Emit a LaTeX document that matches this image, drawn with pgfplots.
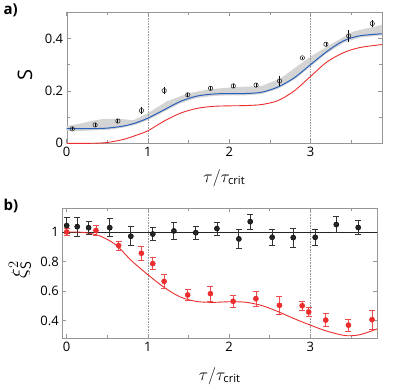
\documentclass[border=0pt]{standalone}
\usepackage{pgfplots}
\pgfplotsset{compat=1.18}
\usepackage{fontspec}
\setmainfont{Open Sans}
\definecolor{bl}{RGB}{40,95,185}
\definecolor{rd}{RGB}{235,45,45}
\definecolor{band}{RGB}{212,212,212}
\definecolor{frame}{RGB}{150,150,150}
\begin{document}
\begin{tikzpicture}
\path[use as bounding box] (0pt,0pt) rectangle (415pt,387pt);
\pgfplotsset{myax/.style={
  scale only axis, anchor=south west,
  axis line style={frame}, tick style={frame, line width=0.5pt},
  tick align=inside, major tick length=4pt,
  ticklabel style={font=\fontsize{13}{15}\selectfont},
  /pgf/number format/assume math mode=true,
  xlabel={\fontsize{16}{18}\selectfont$\tau/\tau_{\mathrm{crit}}$},
  clip=true,
}}
\begin{axis}[myax, at={(66.7pt,243.7pt)}, width=315.3pt, height=131pt,
  xmin=0, xmax=3.88, ymin=0, ymax=0.5,
  xtick={0,1,2,3}, minor xtick={0.5,1.5,2.5,3.5},
  ytick={0,0.2,0.4}, minor ytick={0.1,0.3},
  yticklabels={0,0.2,0.4},
  ylabel={\fontsize{20}{22}\selectfont S},
  ylabel style={at={(axis description cs:-0.132,0.52)}, anchor=center},
  xlabel style={at={(axis description cs:0.5,-0.265)}, anchor=center},
]
\addplot[draw=none, fill=band] coordinates {
(0,0.066)(0.15,0.074)(0.3,0.085)(0.45,0.093)(0.63,0.094)(0.82,0.088)(1.0,0.115)(1.23,0.16)(1.49,0.19)(1.75,0.206)(2.05,0.214)(2.4,0.219)(2.63,0.247)(3.0,0.331)(3.29,0.385)(3.53,0.427)(3.88,0.452)
(3.88,0.412)(3.6,0.403)(3.4,0.383)(3.2,0.343)(3.0,0.293)(2.8,0.243)(2.6,0.208)(2.4,0.188)(2.2,0.183)(2.0,0.183)(1.8,0.181)(1.6,0.173)(1.4,0.153)(1.2,0.121)(1.0,0.089)(0.85,0.071)(0.7,0.06)(0.5,0.051)(0.3,0.049)(0.1,0.046)(0,0.046)
} -- cycle;
\addplot[frame, densely dotted, line width=0.6pt] coordinates {(1,0)(1,0.5)};
\addplot[frame, densely dotted, line width=0.6pt] coordinates {(3,0)(3,0.5)};
\addplot[rd, line width=0.9pt, smooth] coordinates {
(0,0)(0.3,0)(0.5,0.003)(0.7,0.015)(0.85,0.03)(1.0,0.048)(1.2,0.085)(1.4,0.115)(1.6,0.133)(1.8,0.141)(2.0,0.143)(2.2,0.144)(2.4,0.148)(2.6,0.163)(2.8,0.2)(3.0,0.255)(3.2,0.31)(3.4,0.345)(3.6,0.365)(3.88,0.377)};
\addplot[bl, line width=1pt, smooth] coordinates {
(0,0.056)(0.3,0.056)(0.5,0.058)(0.7,0.066)(0.85,0.078)(1.0,0.096)(1.2,0.128)(1.4,0.16)(1.6,0.18)(1.8,0.188)(2.0,0.19)(2.2,0.19)(2.4,0.195)(2.6,0.215)(2.8,0.25)(3.0,0.30)(3.2,0.35)(3.4,0.39)(3.6,0.41)(3.88,0.418)};
\addplot[only marks, mark=o, mark size=2.2pt, mark options={draw=black!80, fill=band, line width=0.6pt},
  error bars/.cd, y dir=both, y explicit, error mark=none, error bar style={black, line width=0.8pt}]
 table[x=x,y=y,y error=e] {
x y e
0.07 0.055 0.006
0.35 0.070 0.006
0.63 0.085 0.006
0.92 0.125 0.014
1.20 0.201 0.014
1.49 0.185 0.007
1.77 0.210 0.009
2.05 0.219 0.009
2.33 0.222 0.008
2.62 0.238 0.020
2.90 0.326 0.005
3.19 0.378 0.007
3.47 0.410 0.024
3.76 0.457 0.013
};
\end{axis}
\node[font=\bfseries\fontsize{15}{17}\selectfont, anchor=north west] at (0pt,387pt) {a)};
\node[font=\bfseries\fontsize{15}{17}\selectfont, anchor=north west] at (0pt,191pt) {b)};
\begin{axis}[myax, at={(62.3pt,48.7pt)}, width=315pt, height=130pt,
  xmin=-0.054, xmax=3.825, ymin=0.281, ymax=1.16,
  xtick={0,1,2,3}, minor xtick={0.5,1.5,2.5,3.5},
  ytick={0.4,0.6,0.8,1}, yticklabels={0.4,0.6,0.8,1},
  ylabel={\fontsize{21}{23}\selectfont $\xi_{\mathsf{S}}^{2}$},
  ylabel style={at={(axis description cs:-0.134,0.525)}, anchor=center},
  xlabel style={at={(axis description cs:0.5,-0.29)}, anchor=center},
]
\addplot[frame, densely dotted, line width=0.6pt] coordinates {(1,0.2)(1,1.2)};
\addplot[frame, densely dotted, line width=0.6pt] coordinates {(3,0.2)(3,1.2)};
\addplot[black!85, line width=0.9pt] coordinates {(-0.1,1)(3.9,1)};
\addplot[rd, line width=0.9pt, smooth] coordinates {
(0,1.0)(0.2,0.997)(0.4,0.975)(0.6,0.915)(0.8,0.805)(1.0,0.711)(1.2,0.625)(1.4,0.56)(1.6,0.53)(1.8,0.524)(2.0,0.528)(2.2,0.525)(2.4,0.503)(2.6,0.462)(2.8,0.414)(3.0,0.37)(3.2,0.33)(3.4,0.302)(3.5,0.298)(3.6,0.304)(3.7,0.32)(3.825,0.345)};
\addplot[only marks, mark=*, mark size=2.6pt, mark options={draw=black, fill=black!85},
  error bars/.cd, y dir=both, y explicit, error mark options={rotate=90, mark size=3pt, black!80, line width=0.8pt}, error bar style={black!80, line width=0.8pt}]
 table[x=x,y=y,y error=e] {
x y e
0.00 1.043 0.055
0.13 1.036 0.065
0.27 1.029 0.045
0.53 1.029 0.060
0.79 0.971 0.065
1.06 0.986 0.045
1.32 1.007 0.060
1.59 0.995 0.045
1.85 1.023 0.045
2.12 0.953 0.065
2.26 1.070 0.050
2.53 0.964 0.055
2.79 0.962 0.065
3.06 0.964 0.055
3.32 1.050 0.055
3.59 1.030 0.045
};
\addplot[only marks, mark=*, mark size=2.6pt, mark options={draw=rd, fill=rd},
  error bars/.cd, y dir=both, y explicit, error mark options={rotate=90, mark size=3pt, rd!85, line width=0.8pt}, error bar style={rd!85, line width=0.8pt}]
 table[x=x,y=y,y error=e] {
x y e
0.00 1.000 0.025
0.36 1.010 0.035
0.64 0.908 0.030
0.92 0.856 0.045
1.06 0.786 0.040
1.20 0.666 0.045
1.49 0.574 0.040
1.77 0.583 0.050
2.05 0.531 0.040
2.33 0.549 0.050
2.62 0.504 0.060
2.90 0.501 0.030
2.98 0.459 0.030
3.19 0.404 0.045
3.47 0.370 0.040
3.76 0.407 0.065
};
\end{axis}
\end{tikzpicture}
\end{document}
